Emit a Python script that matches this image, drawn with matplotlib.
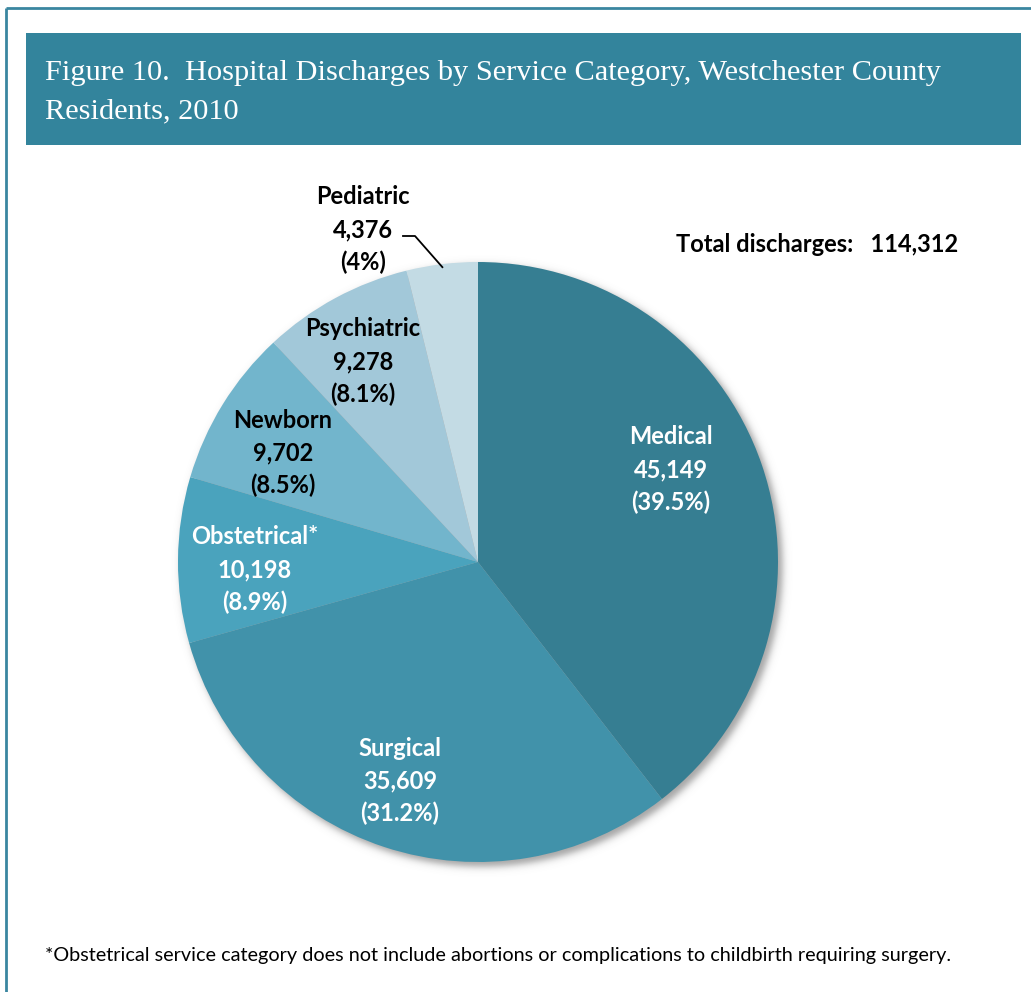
import numpy as np
import matplotlib
matplotlib.use("Agg")
import matplotlib.pyplot as plt
from matplotlib.patches import Rectangle

# ---- data ----
categories = ["Medical", "Surgical", "Obstetrical*", "Newborn", "Psychiatric", "Pediatric"]
values = [45149, 35609, 10198, 9702, 9278, 4376]
pct_labels = ["39.5%", "31.2%", "8.9%", "8.5%", "8.1%", "4%"]
colors = ["#367e92", "#4192aa", "#4aa3bd", "#72b5cc", "#a2c8d9", "#c3dbe4"]
text_colors = ["white", "white", "white", "black", "black", "black"]
total_text = "Total discharges:   114,312"
title_lines = ["Figure 10.  Hospital Discharges by Service Category, Westchester County",
               "Residents, 2010"]
footnote = "*Obstetrical service category does not include abortions or complications to childbirth requiring surgery."

W, H = 1031, 992
fig = plt.figure(figsize=(W / 100, H / 100), dpi=100)
ax = fig.add_axes([0, 0, 1, 1])
ax.set_xlim(0, W)
ax.set_ylim(0, H)
ax.set_aspect("equal")
ax.axis("off")

def Y(py):
    return H - py

fig.canvas.draw()
renderer = fig.canvas.get_renderer()

def fit_text(x, py, s, width, size0, **kw):
    t = ax.text(x, Y(py), s, fontsize=size0, **kw)
    bb = t.get_window_extent(renderer=renderer)
    t.set_fontsize(size0 * width / bb.width)
    return t

# frame
frame_c = "#3a86a0"
ax.plot([6, 6], [Y(8), Y(992)], color=frame_c, lw=2, solid_capstyle="butt")
ax.plot([6, W], [Y(8), Y(8)], color=frame_c, lw=2, solid_capstyle="butt")

# title band
ax.add_patch(Rectangle((26, Y(145)), 1021 - 26, 145 - 33, color="#33849c", lw=0))
serif = ["Liberation Serif", "DejaVu Serif"]
t1 = fit_text(45, 80, title_lines[0], 897, 20, family=serif, color="white", va="baseline")
ax.text(45, Y(118), title_lines[1], fontsize=t1.get_fontsize(), family=serif,
        color="white", va="baseline")

# pie
cx, cy, R = 478, Y(562), 300

# soft shadow
n = 720
xs = np.linspace(cx - 360, cx + 360, n)
ys = np.linspace(cy - 360, cy + 360, n)
XX, YY = np.meshgrid(xs, ys)
d = np.hypot(XX - (cx + 4), YY - (cy - 4))
alpha = 0.55 / (1 + np.exp((d - (R + 1)) / 2.2))
img = np.zeros((n, n, 4))
img[..., :3] = 0.35
img[..., 3] = alpha
ax.imshow(img, extent=(xs[0], xs[-1], ys[0], ys[-1]), origin="lower", zorder=1,
          interpolation="bilinear")

wedges, _ = ax.pie(values, colors=colors, startangle=90, counterclock=False,
                   center=(cx, cy), radius=R, frame=True,
                   wedgeprops=dict(linewidth=0, zorder=2))
ax.set_xlim(0, W)
ax.set_ylim(0, H)
ax.axis("off")

sans = ["Lato", "DejaVu Sans"]
# label centers (pixel coordinates) and line spacing
label_pos = [(671, 437), (400, 748), (255, 537), (283, 420), (363, 329), (363, 197)]
lsp = 32.5
fs = 17
for i, (cat, v, p) in enumerate(zip(categories, values, pct_labels)):
    lx, ly = label_pos[i]
    lines = [cat, f"{v:,}", f"({p})"]
    for k, s in enumerate(lines):
        ax.text(lx, Y(ly + k * lsp), s, fontsize=fs, family=sans, weight="bold",
                color=text_colors[i], ha="center", va="center", zorder=5)

# leader line for Pediatric
cum = np.cumsum(values)
a0 = 90 - 360 * cum[-2] / cum[-1]
a1 = 90 - 360 * cum[-1] / cum[-1]
amid = np.deg2rad((a0 + a1) / 2)
ex, ey = cx + (R - 3) * np.cos(amid), cy + (R - 3) * np.sin(amid)
ax.plot([403, 415, ex], [Y(236), Y(236), ey], color="black", lw=1.3, zorder=5)

# total
fit_text(676, 252, total_text, 281, 15.5, family=sans, weight="bold", color="black",
         va="baseline")

# footnote
fit_text(45, 955, footnote, 903, 13, family=sans, color="black", va="center")

fig.savefig("out.png", dpi=100, facecolor="white")
